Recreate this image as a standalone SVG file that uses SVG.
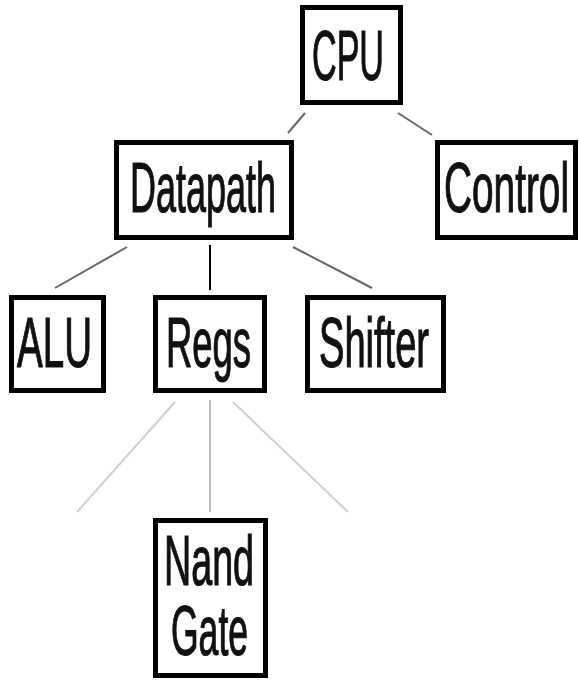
<svg xmlns="http://www.w3.org/2000/svg" width="579" height="681" viewBox="0 0 579 681">
<style>
.box{fill:#fff;stroke:#000;stroke-width:5}
.lbl{font-family:"Liberation Sans",Arial,sans-serif;font-size:70px;fill:#111;stroke:#111;stroke-width:1.2}
.dk{stroke:#666;stroke-width:2;fill:none}
.lt{stroke:#d0d0d0;stroke-width:2;fill:none}
</style>
<rect width="579" height="681" fill="#fff"/>
<g id="connectors">
<line class="dk" x1="305" y1="113" x2="288" y2="133"/>
<line class="dk" x1="398" y1="113" x2="432" y2="135"/>
<line class="dk" x1="127" y1="247" x2="55" y2="288"/>
<line x1="210" y1="245" x2="210" y2="290" stroke="#000" stroke-width="2"/>
<line class="dk" x1="293" y1="247" x2="372" y2="288"/>
<line class="lt" x1="175" y1="402" x2="77" y2="512"/>
<line x1="210" y1="400" x2="210" y2="512" stroke="#bbb" stroke-width="2"/>
<line class="lt" x1="233" y1="402" x2="348" y2="512"/>
</g>
<g id="cpu">
<rect class="box" x="302.5" y="7.5" width="98" height="95"/>
<text class="lbl" x="312" y="80" textLength="72" lengthAdjust="spacingAndGlyphs">CPU</text>
</g>
<g id="datapath">
<rect class="box" x="116.5" y="142.5" width="175" height="95"/>
<text class="lbl" x="130" y="212" textLength="146" lengthAdjust="spacingAndGlyphs">Datapath</text>
</g>
<g id="control">
<rect class="box" x="437.5" y="142.5" width="138" height="95"/>
<text class="lbl" x="444" y="212" textLength="125" lengthAdjust="spacingAndGlyphs">Control</text>
</g>
<g id="alu">
<rect class="box" x="11.5" y="297.5" width="92" height="93"/>
<text class="lbl" x="17" y="367" textLength="75" lengthAdjust="spacingAndGlyphs">ALU</text>
</g>
<g id="regs">
<rect class="box" x="155.5" y="297.5" width="109" height="93"/>
<text class="lbl" x="166" y="367" textLength="85" lengthAdjust="spacingAndGlyphs">Regs</text>
</g>
<g id="shifter">
<rect class="box" x="307.5" y="297.5" width="136" height="93"/>
<text class="lbl" x="319" y="367" textLength="110" lengthAdjust="spacingAndGlyphs">Shifter</text>
</g>
<g id="nandgate">
<rect class="box" x="155.5" y="520.5" width="110" height="155"/>
<text class="lbl" x="164" y="585" textLength="90" lengthAdjust="spacingAndGlyphs">Nand</text>
<text class="lbl" x="171" y="655" textLength="77" lengthAdjust="spacingAndGlyphs">Gate</text>
</g>
</svg>
